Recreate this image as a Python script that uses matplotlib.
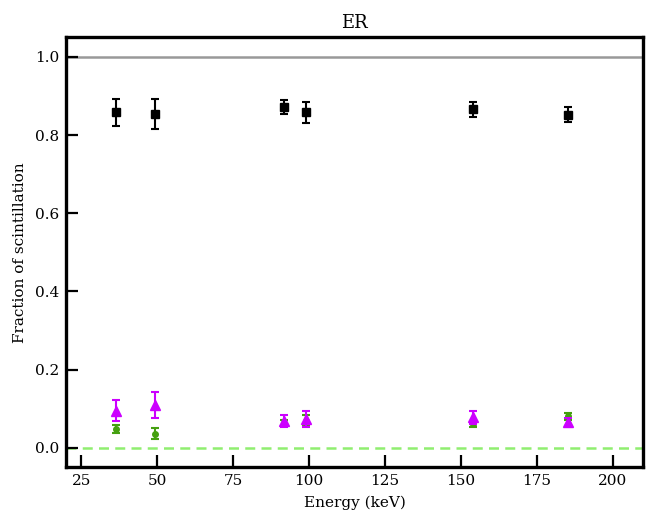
import matplotlib
matplotlib.use("Agg")
import matplotlib.pyplot as plt

energy = [36.5, 49.3, 91.8, 99.1, 153.8, 185.1]

black_vals = [0.858, 0.854, 0.873, 0.858, 0.866, 0.852]
black_err = [0.034, 0.038, 0.018, 0.027, 0.020, 0.019]

magenta_vals = [0.095, 0.110, 0.068, 0.073, 0.078, 0.066]
magenta_err = [0.027, 0.033, 0.015, 0.021, 0.017, 0.010]

green_vals = [0.049, 0.036, 0.064, 0.069, 0.060, 0.081]
green_err = [0.010, 0.014, 0.008, 0.014, 0.007, 0.009]

x_ticks = [25, 50, 75, 100, 125, 150, 175, 200]
y_ticks = [0.0, 0.2, 0.4, 0.6, 0.8, 1.0]

plt.rcParams['font.family'] = ['DejaVu Serif']

fig = plt.figure(figsize=(6.55, 5.13), dpi=100)
ax = fig.add_axes([0.101, 0.089, 0.881, 0.838])

ax.axhline(1.0, color='#999999', lw=1.8, zorder=1)
ax.axhline(0.0, color='#90ee70', lw=1.8, ls=(0, (4, 2.5)), zorder=1)

ax.errorbar(energy, black_vals, yerr=black_err, fmt='s', color='black',
            ms=6, capsize=3, elinewidth=1.5, capthick=1.5, zorder=3)
ax.errorbar(energy, green_vals, yerr=green_err, fmt='o', color='#45a010',
            ms=4, capsize=3, elinewidth=1.5, capthick=1.5, zorder=3)
ax.errorbar(energy, magenta_vals, yerr=magenta_err, fmt='^', color='#cc00ff',
            ms=7, capsize=3, elinewidth=1.5, capthick=1.5, zorder=4)

ax.set_xlim(20, 210)
ax.set_ylim(-0.05, 1.05)
ax.set_xticks(x_ticks)
ax.set_yticks(y_ticks)
ax.set_xticklabels([str(v) for v in x_ticks])
ax.set_yticklabels([f"{v:.1f}" for v in y_ticks])
ax.tick_params(direction='in', length=8.5, width=1.6, labelsize=11, pad=5)
for s in ax.spines.values():
    s.set_linewidth(2.4)

ax.set_xlabel('Energy (keV)', fontsize=11, labelpad=5)
ax.set_ylabel('Fraction of scintillation', fontsize=11, labelpad=6)
ax.set_title('ER', fontsize=13, pad=7)

fig.savefig('out.png', dpi=100)
